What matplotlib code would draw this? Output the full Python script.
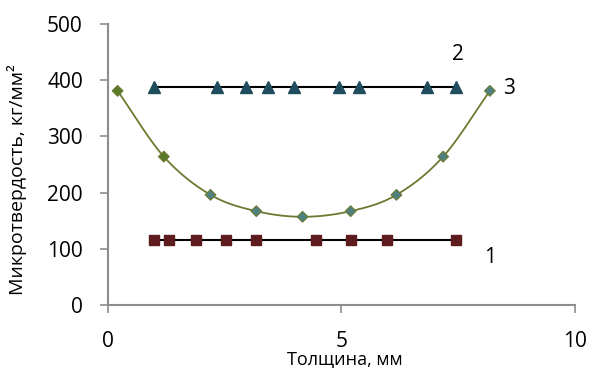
import matplotlib
matplotlib.use("Agg")
import matplotlib.pyplot as plt
import numpy as np

plt.rcParams["font.family"] = ["Open Sans", "DejaVu Sans"]

# series 1 (squares)
x1 = [0.99, 1.30, 1.88, 2.53, 3.17, 4.45, 5.20, 5.97, 7.45]
y1 = [116] * len(x1)
# series 2 (triangles)
x2 = [1.00, 2.33, 2.96, 3.43, 3.98, 4.95, 5.37, 6.83, 7.45]
y2 = [388] * len(x2)
# series 3 (diamonds, smoothed line)
x3 = [0.21, 1.20, 2.20, 3.18, 4.17, 5.20, 6.18, 7.18, 8.18]
y3 = [381, 264, 196, 167, 157, 167, 196, 264, 381]

xticks = [0, 5, 10]
yticks = [0, 100, 200, 300, 400, 500]


def catmull_rom(xs, ys, n=30):
    px = np.array(xs, float)
    py = np.array(ys, float)
    px = np.concatenate([[2 * px[0] - px[1]], px, [2 * px[-1] - px[-2]]])
    py = np.concatenate([[2 * py[0] - py[1]], py, [2 * py[-1] - py[-2]]])
    outx, outy = [], []
    t = np.linspace(0, 1, n)
    for i in range(1, len(px) - 2):
        for arr, out in ((px, outx), (py, outy)):
            p0, p1, p2, p3 = arr[i - 1], arr[i], arr[i + 1], arr[i + 2]
            out.extend(0.5 * ((2 * p1) + (-p0 + p2) * t
                              + (2 * p0 - 5 * p1 + 4 * p2 - p3) * t ** 2
                              + (-p0 + 3 * p1 - 3 * p2 + p3) * t ** 3))
    return outx, outy


fig = plt.figure(figsize=(5.89, 3.68), dpi=100)
ax = fig.add_axes([0.183, 0.171, 0.793, 0.764])

ax.plot(x1, y1, color="black", lw=1.5, marker="s", ms=7,
        mfc="#5e1c1e", mec="#5e1c1e", zorder=3)
ax.plot(x2, y2, color="black", lw=1.5, marker="^", ms=8,
        mfc="#1f4d5e", mec="#1f4d5e", zorder=3)

cx, cy = catmull_rom(x3, y3)
ax.plot(cx, cy, color="#6b7a30", lw=1.3, zorder=2)
dcol = ["#5a7a2a", "#5a7a2a"] + ["#4f8080"] * (len(x3) - 2)
ax.scatter(x3, y3, marker="D", s=30, c=dcol, edgecolors="#6b7a30",
           linewidths=0.8, zorder=4)

ax.text(8.18, 84, "1", fontsize=15, ha="center", va="center")
ax.text(7.5, 445, "2", fontsize=15, ha="center", va="center")
ax.text(8.58, 385, "3", fontsize=15, ha="center", va="center")

ax.set_xlim(0, 10)
ax.set_ylim(0, 500)
ax.set_xticks(xticks)
ax.set_yticks(yticks)
ax.tick_params(labelsize=15, color="#8c8c8c", length=6, width=1.2)
ax.tick_params(axis="x", pad=13)
ax.tick_params(axis="y", pad=12)
for s in ("top", "right"):
    ax.spines[s].set_visible(False)
for s in ("left", "bottom"):
    ax.spines[s].set_color("#8c8c8c")
    ax.spines[s].set_linewidth(1.5)

ax.set_xlabel("Толщина, мм", fontsize=13)
ax.xaxis.set_label_coords(0.507, -0.162)
ax.set_ylabel("Микротвердость, кг/мм²", fontsize=14)
ax.yaxis.set_label_coords(-0.172, 0.445)

fig.savefig("out.png", dpi=100)
